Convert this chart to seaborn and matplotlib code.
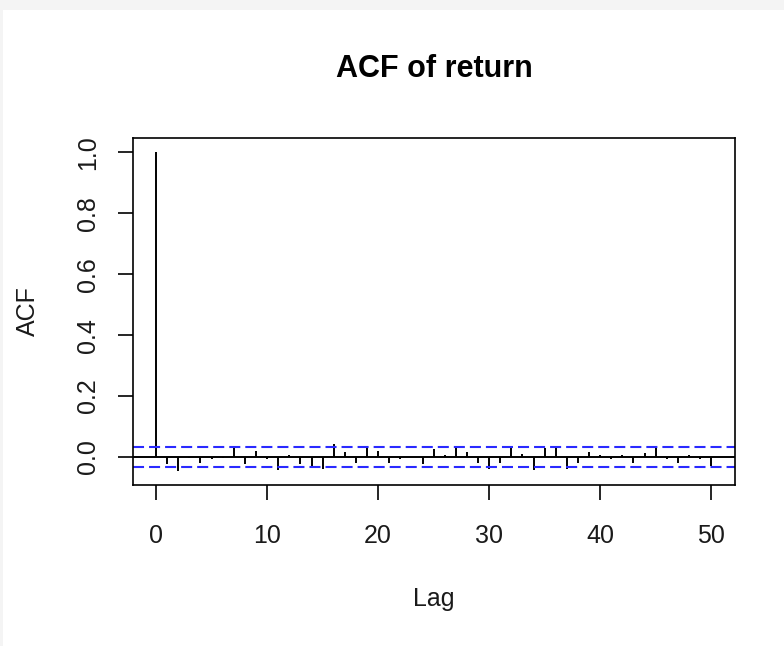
import matplotlib
matplotlib.use("Agg")
import matplotlib.pyplot as plt
import seaborn as sns
import pandas as pd
from matplotlib.patches import Rectangle

lags = list(range(0, 51))
acf_values = [1.0, -0.022, -0.047, -0.002, -0.02, -0.006, -0.005, 0.031, -0.022, 0.02,
              -0.008, -0.044, 0.007, -0.024, -0.03, -0.04, 0.042, 0.016, -0.02, 0.03,
              0.02, -0.02, -0.008, -0.001, -0.022, 0.027, 0.006, 0.03, 0.016, -0.02,
              -0.04, -0.02, 0.03, 0.01, -0.044, 0.03, 0.03, -0.04, -0.02, 0.017,
              0.005, -0.008, 0.005, -0.02, 0.013, 0.03, -0.008, -0.02, 0.006, -0.008,
              -0.03]
ci_bound = 0.034
x_ticks = [0, 10, 20, 30, 40, 50]
y_ticks = [0.0, 0.2, 0.4, 0.6, 0.8, 1.0]
y_tick_labels = ["0.0", "0.2", "0.4", "0.6", "0.8", "1.0"]

df = pd.DataFrame({"Lag": lags, "ACF": acf_values})

sns.set_style("white")
plt.rcParams["font.family"] = ["Liberation Sans", "DejaVu Sans"]

fig = plt.figure(figsize=(7.84, 6.46), dpi=100)
fig.patch.set_facecolor("#f4f4f4")
bg = Rectangle((3 / 784, 0), 1, 1 - 10 / 646, transform=fig.transFigure,
               facecolor="white", edgecolor="none", zorder=-10)
fig.patches.append(bg)

ax = fig.add_axes([133 / 784, 1 - 485 / 646, (735 - 133) / 784, (485 - 138) / 646])
ax.set_zorder(5)
ax.set_facecolor("white")

ax.vlines(df["Lag"], 0, df["ACF"], colors="black", linewidth=1.4)
sns.lineplot(x=[-2.1, 52.2], y=[0, 0], ax=ax, color="black", linewidth=1.4)
for b in (ci_bound, -ci_bound):
    ax.axhline(b, color="#2a2aff", linestyle=(0, (5.3, 2.4)), linewidth=1.5)

ax.set_xlim(-2.08, 52.15)
ax.set_ylim(-0.092, 1.047)

ax.set_xticks(x_ticks)
ax.set_xticklabels([str(t) for t in x_ticks])
ax.set_yticks(y_ticks)
ax.set_yticklabels(y_tick_labels, rotation=90, va="center")

for s in ax.spines.values():
    s.set_visible(True)
    s.set_color("black")
    s.set_linewidth(1.2)

ax.tick_params(axis="both", which="major", direction="out", length=11, width=1.2,
               colors="black", labelsize=18, labelcolor="#1a1a1a", left=True, bottom=True)
ax.tick_params(axis="x", pad=17)
ax.tick_params(axis="y", pad=13)

ax.set_xlabel("Lag", fontsize=18, color="#1a1a1a", labelpad=28)
ax.set_ylabel("ACF", fontsize=18, color="#1a1a1a", labelpad=26)
ax.set_title("ACF of return", fontsize=22, fontweight="bold", color="black", pad=44)

fig.savefig("out.png", dpi=100, facecolor=fig.get_facecolor())
